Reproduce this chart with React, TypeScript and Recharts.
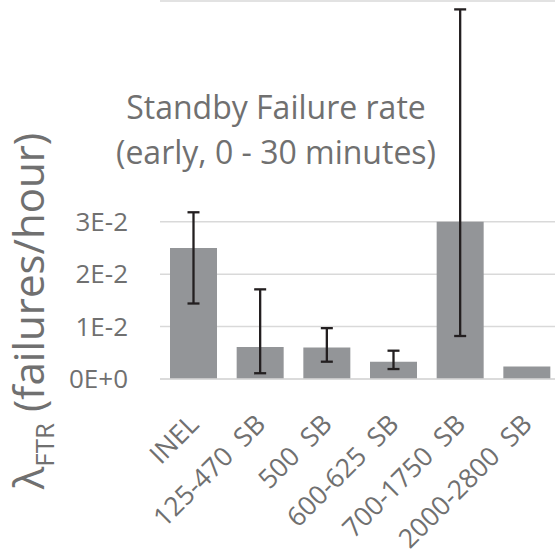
import { BarChart, Bar, XAxis, YAxis, CartesianGrid, ErrorBar } from 'recharts'

const categories = ['INEL', '125-470  SB', '500  SB', '600-625  SB', '700-1750  SB', '2000-2800  SB']
const rates = [0.025, 0.0061, 0.006, 0.0033, 0.03, 0.0024]
const lowerBounds = [0.0144, 0.0011, 0.0033, 0.0019, 0.0082, null]
const upperBounds = [0.0318, 0.0171, 0.0097, 0.0054, 0.0705, null]
const yTicks = [0, 0.01, 0.02, 0.03]
const yTickLabels = ['0E+0', '1E-2', '2E-2', '3E-2']

const FONT = '"Open Sans", sans-serif'
const TEXT = '#707070'

const data = categories.map((name, i) => {
  const lo = lowerBounds[i]
  const hi = upperBounds[i]
  return {
    name,
    value: rates[i],
    err: lo == null || hi == null ? null : [rates[i] - lo, hi - rates[i]]
  }
})

function XTick({ x, y, payload }: any) {
  const tx = x + 7
  const ty = y + 45
  return (
    <text
      x={tx}
      y={ty}
      transform={`rotate(-45, ${tx}, ${ty})`}
      textAnchor="end"
      fontSize={26.5}
      fontFamily={FONT}
      fill={TEXT}
      style={{ whiteSpace: 'pre' }}
    >
      {payload.value}
    </text>
  )
}

function YLabel() {
  const x = 44
  const y = 311
  return (
    <text
      x={x}
      y={y}
      transform={`rotate(-90, ${x}, ${y})`}
      textAnchor="middle"
      fontFamily={FONT}
      fontSize={42}
      fill={TEXT}
      style={{ whiteSpace: 'pre' }}
    >
      <tspan>λ</tspan>
      <tspan fontSize={26} dy={10}>FTR</tspan>
      <tspan dy={-10}> (failures/hour)</tspan>
    </text>
  )
}

export default function App() {
  return (
    <div style={{ position: 'absolute', left: 0, top: 0, width: 555, height: 555, overflow: 'hidden', background: '#fff' }}>
      <BarChart
        width={560}
        height={555}
        data={data}
        margin={{ top: 1, right: 0, bottom: 0, left: 0 }}
        barCategoryGap="15%"
      >
        <CartesianGrid vertical={false} stroke="#d9d9d9" strokeWidth={1.5} />
        <XAxis
          dataKey="name"
          height={176}
          interval={0}
          tickLine={false}
          axisLine={{ stroke: '#d9d9d9', strokeWidth: 1.5 }}
          tickSize={0}
          tick={<XTick />}
        />
        <YAxis
          width={160}
          domain={[0, 0.0721]}
          allowDataOverflow
          ticks={yTicks}
          tickFormatter={(v: number) => yTickLabels[yTicks.indexOf(v)] ?? ''}
          axisLine={false}
          tickLine={false}
          tickSize={0}
          tickMargin={32}
          tick={{ fontSize: 26, fontFamily: FONT, fill: TEXT }}
          label={<YLabel />}
        />
        <Bar dataKey="value" fill="#939598" isAnimationActive={false}>
          <ErrorBar dataKey="err" width={6} stroke="#231f20" strokeWidth={2.3} direction="y" isAnimationActive={false} />
        </Bar>
      </BarChart>
      <div
        style={{
          position: 'absolute',
          left: 76,
          top: 84,
          width: 400,
          textAlign: 'center',
          fontFamily: FONT,
          fontSize: 32,
          lineHeight: '45px',
          color: TEXT
        }}
      >
        Standby Failure rate
        <br />
        (early, 0 - 30 minutes)
      </div>
    </div>
  )
}
